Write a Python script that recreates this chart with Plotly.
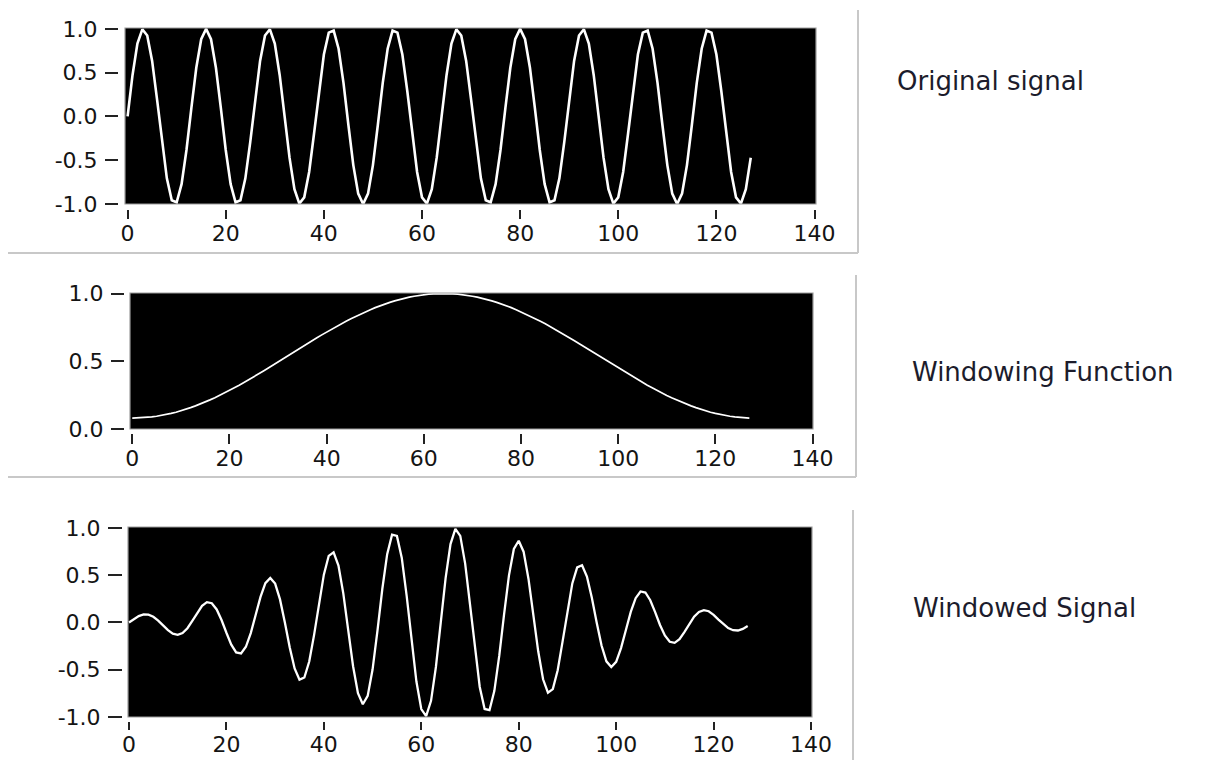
import plotly.graph_objects as go

W, H = 1208, 760

# ---- data -------------------------------------------------------------
samples = list(range(128))

original_signal = [
    0.000, 0.471, 0.831, 0.995, 0.924, 0.634, 0.195, -0.290, -0.707, -0.957, -0.981, -0.773, -0.383, 0.098, 0.556, 0.882,
    1.000, 0.882, 0.556, 0.098, -0.383, -0.773, -0.981, -0.957, -0.707, -0.290, 0.195, 0.634, 0.924, 0.995, 0.831, 0.471,
    0.000, -0.471, -0.831, -0.995, -0.924, -0.634, -0.195, 0.290, 0.707, 0.957, 0.981, 0.773, 0.383, -0.098, -0.556, -0.882,
    -1.000, -0.882, -0.556, -0.098, 0.383, 0.773, 0.981, 0.957, 0.707, 0.290, -0.195, -0.634, -0.924, -0.995, -0.831, -0.471,
    0.000, 0.471, 0.831, 0.995, 0.924, 0.634, 0.195, -0.290, -0.707, -0.957, -0.981, -0.773, -0.383, 0.098, 0.556, 0.882,
    1.000, 0.882, 0.556, 0.098, -0.383, -0.773, -0.981, -0.957, -0.707, -0.290, 0.195, 0.634, 0.924, 0.995, 0.831, 0.471,
    0.000, -0.471, -0.831, -0.995, -0.924, -0.634, -0.195, 0.290, 0.707, 0.957, 0.981, 0.773, 0.383, -0.098, -0.556, -0.882,
    -1.000, -0.882, -0.556, -0.098, 0.383, 0.773, 0.981, 0.957, 0.707, 0.290, -0.195, -0.634, -0.924, -0.995, -0.831, -0.471,
]

window_function = [
    0.080, 0.081, 0.082, 0.085, 0.089, 0.094, 0.100, 0.107, 0.115, 0.124, 0.134, 0.145, 0.158, 0.171, 0.184, 0.199,
    0.215, 0.231, 0.248, 0.266, 0.284, 0.304, 0.323, 0.343, 0.364, 0.385, 0.407, 0.428, 0.450, 0.473, 0.495, 0.517,
    0.540, 0.563, 0.585, 0.608, 0.630, 0.652, 0.674, 0.695, 0.716, 0.737, 0.757, 0.777, 0.796, 0.814, 0.832, 0.849,
    0.865, 0.881, 0.896, 0.910, 0.923, 0.935, 0.946, 0.956, 0.965, 0.973, 0.980, 0.986, 0.991, 0.995, 0.998, 0.999,
    1.000, 0.999, 0.998, 0.995, 0.991, 0.986, 0.980, 0.973, 0.965, 0.956, 0.946, 0.935, 0.923, 0.910, 0.896, 0.881,
    0.865, 0.849, 0.832, 0.814, 0.796, 0.777, 0.757, 0.737, 0.716, 0.695, 0.674, 0.652, 0.630, 0.608, 0.585, 0.563,
    0.540, 0.517, 0.495, 0.473, 0.450, 0.428, 0.407, 0.385, 0.364, 0.343, 0.323, 0.304, 0.284, 0.266, 0.248, 0.231,
    0.215, 0.199, 0.184, 0.171, 0.158, 0.145, 0.134, 0.124, 0.115, 0.107, 0.100, 0.094, 0.089, 0.085, 0.082, 0.081,
]

windowed_signal = [
    0.000, 0.038, 0.068, 0.085, 0.082, 0.060, 0.020, -0.031, -0.081, -0.119, -0.131, -0.112, -0.061, 0.017, 0.102, 0.176,
    0.215, 0.204, 0.138, 0.026, -0.109, -0.235, -0.317, -0.328, -0.257, -0.112, 0.079, 0.271, 0.416, 0.471, 0.411, 0.244,
    0.000, -0.265, -0.486, -0.605, -0.582, -0.413, -0.131, 0.202, 0.506, 0.705, 0.743, 0.601, 0.305, -0.080, -0.463, -0.749,
    -0.865, -0.777, -0.498, -0.089, 0.354, 0.723, 0.928, 0.915, 0.682, 0.282, -0.191, -0.625, -0.916, -0.990, -0.829, -0.471,
    0.000, 0.471, 0.829, 0.990, 0.916, 0.625, 0.191, -0.282, -0.682, -0.915, -0.928, -0.723, -0.354, 0.089, 0.498, 0.777,
    0.865, 0.749, 0.463, 0.080, -0.305, -0.601, -0.743, -0.705, -0.506, -0.202, 0.131, 0.413, 0.582, 0.605, 0.486, 0.265,
    0.000, -0.244, -0.411, -0.471, -0.416, -0.271, -0.079, 0.112, 0.257, 0.328, 0.317, 0.235, 0.109, -0.026, -0.138, -0.204,
    -0.215, -0.176, -0.102, -0.017, 0.061, 0.112, 0.131, 0.119, 0.081, 0.031, -0.020, -0.060, -0.082, -0.085, -0.068, -0.038,
]

panel_titles = ["Original signal", "Windowing Function", "Windowed Signal"]

x_tick_values = [0, 20, 40, 60, 80, 100, 120, 140]
x_tick_labels = ["0", "20", "40", "60", "80", "100", "120", "140"]
bipolar_tick_values = [1.0, 0.5, 0.0, -0.5, -1.0]
bipolar_tick_labels = ["1.0", "0.5", "0.0", "-0.5", "-1.0"]
unipolar_tick_values = [1.0, 0.5, 0.0]
unipolar_tick_labels = ["1.0", "0.5", "0.0"]


# ---- helpers: pixel -> paper coordinates ---------------------------------
def px(x):
    return x / W


def py(y):
    return 1 - y / H


TICK_FONT = dict(family="DejaVu Sans", size=22, color="#141414")
TITLE_FONT = dict(family="DejaVu Sans", size=26, color="#1c1c2c")

# Each panel: plot box in pixels, x range, y range/ticks, axis offsets, line width
panels = [
    dict(series=original_signal, box=(125, 28, 816, 204), xr=[-0.53, 140.3], yr=[-1.0, 1.01],
         yt=(bipolar_tick_values, bipolar_tick_labels), yaxis_x=118, ylen=13, xaxis_y=209, xlen=9,
         lw=2.6, title_xy=(895, 81)),
    dict(series=window_function, box=(130, 293, 813, 429), xr=[-0.47, 140.1], yr=[0.0, 1.004],
         yt=(unipolar_tick_values, unipolar_tick_labels), yaxis_x=124, ylen=13, xaxis_y=433, xlen=10,
         lw=1.7, title_xy=(910, 372)),
    dict(series=windowed_signal, box=(128, 527, 812, 717), xr=[-0.2, 140.2], yr=[-1.0, 1.01],
         yt=(bipolar_tick_values, bipolar_tick_labels), yaxis_x=122, ylen=14, xaxis_y=721, xlen=8,
         lw=2.3, title_xy=(911, 608)),
]

fig = go.Figure()
layout = dict(
    width=W, height=H,
    margin=dict(l=0, r=0, t=0, b=0, autoexpand=False),
    paper_bgcolor="white",
    plot_bgcolor="black",
    showlegend=False,
    shapes=[], annotations=[],
)

for i, p in enumerate(panels, start=1):
    suffix = "" if i == 1 else str(i)
    xa, ya = "xaxis" + suffix, "yaxis" + suffix
    xl, yl = "x" + suffix, "y" + suffix
    x0, y0, x1, y1 = p["box"]

    fig.add_trace(go.Scatter(
        x=samples, y=p["series"], mode="lines", xaxis=xl, yaxis=yl,
        line=dict(color="white", width=p["lw"]), hoverinfo="skip",
    ))

    layout[xa] = dict(
        domain=[px(x0), px(x1)], range=p["xr"], anchor="free", position=py(p["xaxis_y"]),
        tickmode="array", tickvals=x_tick_values, ticktext=x_tick_labels,
        ticks="outside", ticklen=p["xlen"], tickwidth=2, tickcolor="#222",
        showline=False, showgrid=False, zeroline=False, tickfont=TICK_FONT,
        ticklabelstandoff=-4, automargin=False, fixedrange=True,
    )
    layout[ya] = dict(
        domain=[py(y1), py(y0)], range=p["yr"], anchor="free", position=px(p["yaxis_x"]),
        tickmode="array", tickvals=p["yt"][0], ticktext=p["yt"][1],
        ticks="outside", ticklen=p["ylen"], tickwidth=2, tickcolor="#222",
        showline=False, showgrid=False, zeroline=False, tickfont=TICK_FONT,
        ticklabelstandoff=3, automargin=False, fixedrange=True,
    )

    # thin grey bezel round the plotting area
    layout["shapes"].append(dict(
        type="rect", xref=xl + " domain", yref=yl + " domain", x0=0, x1=1, y0=0, y1=1,
        line=dict(color="#9c9c9c", width=1.2), layer="above",
    ))

    tx, ty = p["title_xy"]
    layout["annotations"].append(dict(
        text=panel_titles[i - 1], xref="paper", yref="paper", x=px(tx), y=py(ty),
        xanchor="left", yanchor="middle", showarrow=False, font=TITLE_FONT,
    ))

# light grey frame lines separating the panels
frame = "#c8c8c8"
for (xa_, ya_, xb_, yb_) in [
    (8, 253, 858, 253), (858, 10, 858, 253),
    (8, 477, 856, 477), (856, 275, 856, 477),
    (853, 510, 853, 760),
]:
    layout["shapes"].append(dict(
        type="line", xref="paper", yref="paper",
        x0=px(xa_), y0=py(ya_), x1=px(xb_), y1=py(yb_),
        line=dict(color=frame, width=2),
    ))

fig.update_layout(**layout)

# the figure fills the page exactly, so drop the default body margin
page_fit = "document.body.style.margin='0';document.body.style.overflow='hidden';"
fig.write_html("out.html", config={"displayModeBar": False}, post_script=page_fit)
